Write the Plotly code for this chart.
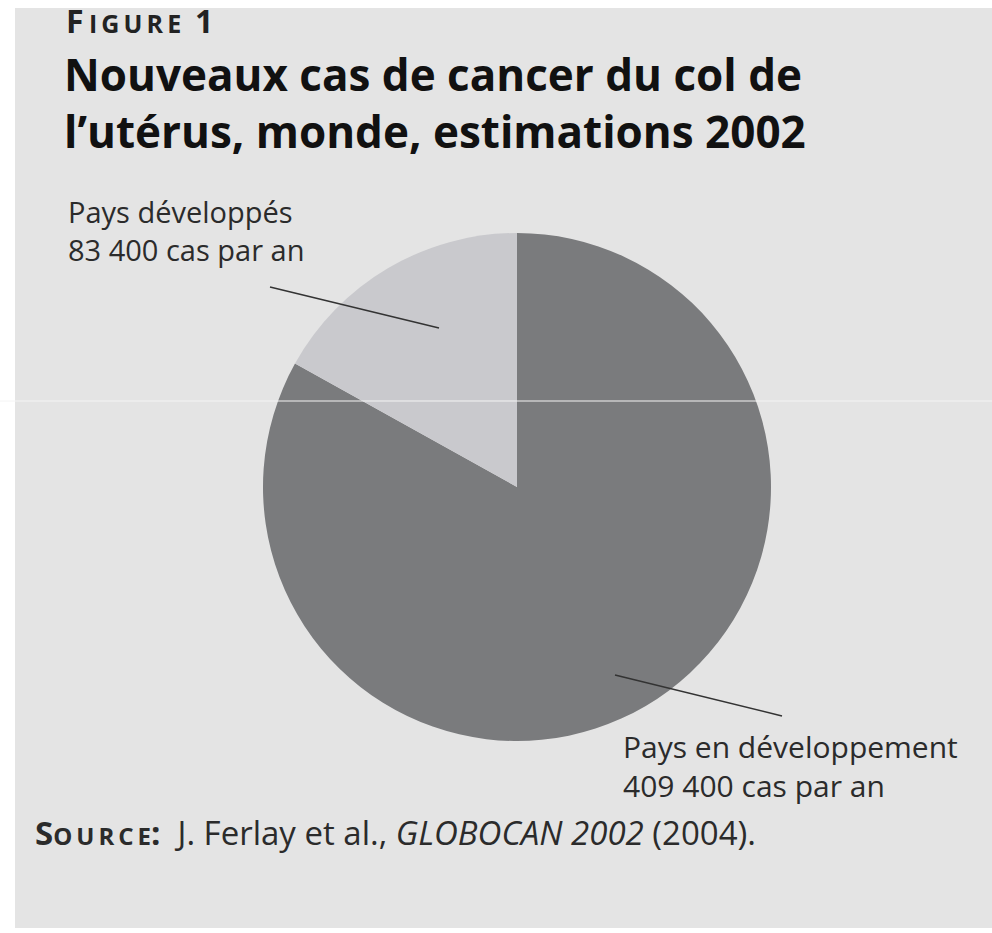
import plotly.graph_objects as go

# Data
categories = ["Pays développés", "Pays en développement"]
cases = [83400, 409400]
label_lines = ["83 400 cas par an", "409 400 cas par an"]
colors = ["#c9c9cd", "#7a7b7d"]

W, H = 992, 933
def px(x): return x / W
def py(y): return 1 - y / H

BG = "#e4e4e4"
FONT = "Open Sans"

fig = go.Figure()
cx, cy, r = 517, 487, 254
# clockwise from 12 o'clock, developing first so the developed slice ends at 12 o'clock
fig.add_trace(go.Pie(
    labels=categories[::-1], values=cases[::-1], sort=False, direction="clockwise",
    rotation=0, marker=dict(colors=colors[::-1], line=dict(width=0)),
    textinfo="none", hoverinfo="label+value", showlegend=False,
    domain=dict(x=[px(cx - r), px(cx + r)], y=[py(cy + r), py(cy - r)]),
))

shapes = [
    dict(type="rect", xref="paper", yref="paper", x0=px(15), x1=1, y0=py(928), y1=py(8),
         fillcolor=BG, line=dict(width=0), layer="below"),
    dict(type="line", xref="paper", yref="paper", x0=px(270), y0=py(287), x1=px(439), y1=py(328),
         line=dict(color="#333333", width=1.5)),
    dict(type="line", xref="paper", yref="paper", x0=px(615), y0=py(675), x1=px(782), y1=py(716),
         line=dict(color="#333333", width=1.5)),
    dict(type="line", xref="paper", yref="paper", x0=0, y0=py(401), x1=1, y1=py(401),
         line=dict(color="#f4f4f4", width=1)),
]

ann = []
def text(x, y, t, size, color="#2b2b2b", family=FONT, anchor="left"):
    ann.append(dict(x=px(x), y=py(y), xref="paper", yref="paper", text=t, showarrow=False,
                    xanchor=anchor, yanchor="middle", align="left",
                    font=dict(size=size, color=color, family=family)))

ts = "\u2009"
text(64, 21, "<b>F" + ts + "<span style='font-size:25px'>" + ts.join("IGURE") + "</span>" + ts + " 1</b>", 32, color="#222222")
text(62, 102, "<b>Nouveaux cas de cancer du col de<br>l’utérus, monde, estimations 2002</b>", 44, color="#111111")
text(66, 231, categories[0] + "<br>" + label_lines[0], 29)
text(621, 766, categories[1] + "<br>" + label_lines[1], 30)
text(33, 832, "<b>S<span style='font-size:24px'>" + ts.join("OURCE") + "</span>:</b>  J. Ferlay et al., <i>GLOBOCAN 2002</i> (2004).", 33)

fig.update_layout(
    width=W, height=H, margin=dict(l=0, r=0, t=0, b=0),
    paper_bgcolor="white", plot_bgcolor="white",
    shapes=shapes, annotations=ann,
)
fig.write_html("out.html", config={"displayModeBar": False},
               post_script="document.body.style.margin='0px';")
